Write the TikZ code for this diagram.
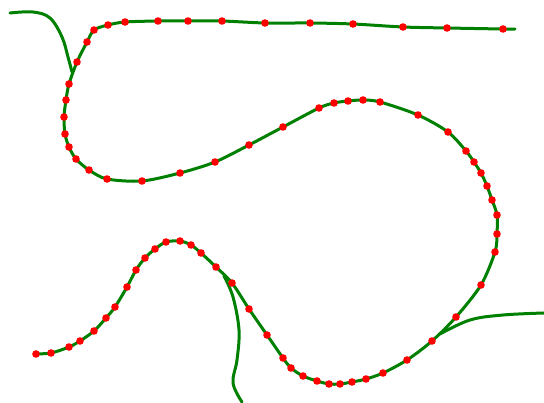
\documentclass[tikz,border=0pt]{standalone}
\begin{document}
\begin{tikzpicture}[x=1pt,y=-1pt,
  curve/.style={draw=green!50!black,line width=3pt,line cap=round,line join=round},
  dot/.style={fill=red,draw=none}]
\useasboundingbox[fill=white] (0,0) rectangle (544,403);
% main curve
\draw[curve] plot[smooth,tension=0.5] coordinates {
(34,354)(51,353)(69,347)(80,341)(94,331)(106,318)(115,307)(127,287)(136,270)(145,258)(155,249)(166,242)(180,241)
(191,245)(201,253)(216,267)(232,283)(249,309)(267,335)(283,358)(291,368)(303,376)(317,381)(329,384)(340,384)(352,382)
(366,379)(383,373)(407,360)(432,341)(456,317)(481,285)(495,252)(497,234)(497,215)(492,200)(487,186)(481,173)(474,162)
(466,151)(448,132)(418,115)(380,102)(363,100)(348,101)(334,103)(319,108)(283,127)(249,145)(215,162)(180,173)(142,181)
(107,179)(89,170)(76,159)(69,147)(65,134)(64,117)(66,100)(69,84)(77,62)(87,42)(94,30)(108,25)(125,22)(158,21)(188,21)
(222,21)(265,23)(310,23)(353,24)(403,27)(447,28)(503,29)(515,29)};
% branches
\draw[curve] plot[smooth,tension=0.6] coordinates {(10,13)(33,12)(50,18)(62,37)(68,57)(72,72)};
\draw[curve] plot[smooth,tension=0.6] coordinates {(224,276)(233,297)(239,330)(237,360)(233,383)(242,402)};
\draw[curve] plot[smooth,tension=0.6] coordinates {(440,334)(470,320)(503,315)(544,313)};
% dots
\foreach \p in {(36,354),(51,353),(69,347),(80,341),(94,331),(106,318),(115,307),(127,287),(136,270),(145,258),(155,249),(166,242),(180,241),
(191,245),(201,253),(216,267),(232,283),(249,309),(267,335),(283,358),(291,368),(303,376),(317,381),(329,384),(340,384),(352,382),
(366,379),(383,373),(407,360),(432,341),(456,317),(481,285),(495,252),(497,234),(497,215),(492,200),(487,186),(481,173),(474,162),
(466,151),(448,132),(418,115),(380,102),(363,100),(348,101),(334,103),(319,108),(283,127),(249,145),(215,162),(180,173),(142,181),
(107,179),(89,170),(76,159),(69,147),(65,134),(64,117),(66,100),(69,84),(77,62),(87,42),(94,30),(108,25),(125,22),(158,21),(188,21),
(222,21),(265,23),(310,23),(353,24),(403,27),(447,28),(503,29)}
  \fill[dot] \p circle (3.8pt);
\end{tikzpicture}
\end{document}
